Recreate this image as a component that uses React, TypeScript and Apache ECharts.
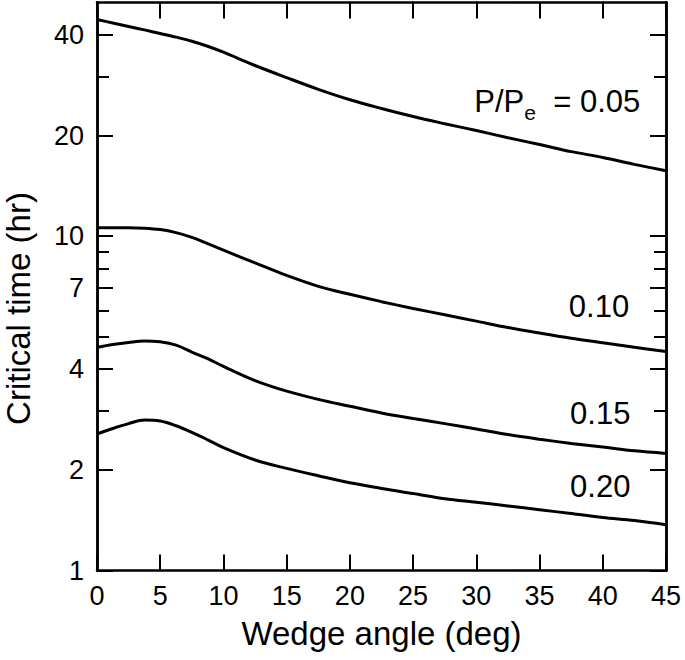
import React, { useEffect, useRef } from "react";
import * as echarts from "echarts";

const angles = [0, 1.25, 2.5, 3.75, 5, 6.25, 7.5, 8.75, 10, 12.5, 15, 17.5, 20, 22.5, 25, 27.5, 30, 32.5, 35, 37.5, 40, 42.5, 45];
const t005 = [44.5, 43.4, 42.4, 41.4, 40.4, 39.4, 38.3, 37.0, 35.5, 32.4, 29.8, 27.5, 25.6, 24.1, 22.8, 21.7, 20.7, 19.7, 18.8, 17.9, 17.2, 16.4, 15.7];
const t010 = [10.6, 10.6, 10.6, 10.57, 10.47, 10.25, 9.92, 9.5, 9.08, 8.32, 7.63, 7.08, 6.7, 6.37, 6.08, 5.82, 5.57, 5.33, 5.13, 4.95, 4.8, 4.65, 4.52];
const t015 = [4.65, 4.74, 4.81, 4.86, 4.83, 4.72, 4.5, 4.3, 4.08, 3.7, 3.44, 3.25, 3.1, 2.96, 2.85, 2.75, 2.65, 2.55, 2.47, 2.4, 2.34, 2.28, 2.24];
const t020 = [2.56, 2.66, 2.75, 2.82, 2.8, 2.71, 2.59, 2.46, 2.33, 2.14, 2.02, 1.92, 1.83, 1.76, 1.7, 1.64, 1.6, 1.56, 1.52, 1.48, 1.44, 1.41, 1.37];

const seriesNames = ["0.05", "0.10", "0.15", "0.20"];
const seriesValues = [t005, t010, t015, t020];
// label anchor positions (data coords) for each curve
const labelAngles = [36.4, 39.7, 39.8, 39.8];
const labelTimes = [25.3, 6.18, 2.94, 1.783];

const xTicks = [0, 5, 10, 15, 20, 25, 30, 35, 40, 45];
const yLabelTicks = [1, 2, 4, 7, 10, 20, 40];
const yMinorTicks = [3, 5, 6, 8, 9, 30];

const FONT = "'Liberation Sans', Arial, Helvetica, sans-serif";

export default function App() {
  const ref = useRef<HTMLDivElement>(null);
  useEffect(() => {
    if (!ref.current) return;
    const chart = echarts.init(ref.current, null, { renderer: "svg" });
    const axisLine = { show: true, lineStyle: { color: "#000", width: 2.5 } };
    const yBase = (position: string, ticks: number[], len: number, labels: boolean, extra: any = {}) => ({
      type: "log",
      logBase: 10,
      min: 1,
      max: 50,
      position,
      axisLine,
      splitLine: { show: false },
      minorTick: { show: false },
      axisTick: { show: true, inside: true, length: len, customValues: ticks, lineStyle: { color: "#000", width: 2 } },
      axisLabel: labels
        ? {
            show: true,
            customValues: yLabelTicks,
            fontSize: 27,
            color: "#000",
            fontFamily: FONT,
            margin: 13,
            formatter: (v: number) => String(+Number(v).toPrecision(3)),
          }
        : { show: false },
      ...extra,
    });
    const xBase = (position: string, labels: boolean, extra: any = {}) => ({
      type: "value",
      min: 0,
      max: 45,
      interval: 5,
      position,
      axisLine,
      splitLine: { show: false },
      axisTick: { show: true, inside: true, length: 16, lineStyle: { color: "#000", width: 2 } },
      axisLabel: labels
        ? { show: true, fontSize: 27, color: "#000", fontFamily: FONT, margin: 12, customValues: xTicks }
        : { show: false },
      ...extra,
    });

    const series = seriesValues.map((vals, i) => ({
      type: "line",
      name: seriesNames[i],
      xAxisIndex: 0,
      yAxisIndex: 0,
      data: angles.map((a, j) => [a, vals[j]]),
      smooth: 0.35,
      showSymbol: false,
      symbol: "none",
      lineStyle: { color: "#000", width: 3 },
      silent: true,
      markPoint: {
        silent: true,
        symbol: "circle",
        symbolSize: 0,
        itemStyle: { color: "rgba(0,0,0,0)" },
        data: [
          {
            coord: [labelAngles[i], labelTimes[i]],
            label: {
              show: true,
              position: "inside",
              color: "#000",
              fontFamily: FONT,
              fontSize: 31,
              formatter: i === 0 ? "{m|P/P}{sub|e}{m|  = 0.05}" : seriesNames[i],
              rich: {
                m: { fontSize: 31, lineHeight: 44, color: "#000", fontFamily: FONT },
                sub: { fontSize: 21, lineHeight: 21, verticalAlign: "bottom", color: "#000", fontFamily: FONT },
              },
            },
          },
        ],
      },
    }));

    chart.setOption({
      animation: false,
      backgroundColor: "#fff",
      textStyle: { fontFamily: FONT },
      grid: { left: 97, right: 19, top: 2.5, bottom: 89.5, outerBoundsMode: "none", containLabel: false },
      xAxis: [
        xBase("bottom", true, {
          name: "Wedge angle (deg)",
          nameLocation: "middle",
          nameGap: 46,
          nameMoveOverlap: false,
          nameTextStyle: { fontSize: 33, color: "#000", fontFamily: FONT },
        }),
        xBase("top", false),
      ],
      yAxis: [
        yBase("left", yLabelTicks, 16, true, {
          name: "Critical time (hr)",
          nameLocation: "middle",
          nameGap: 62,
          nameMoveOverlap: false,
          nameTextStyle: { fontSize: 33, color: "#000", fontFamily: FONT, padding: [0, 44, 0, 0] },
        }),
        yBase("left", yMinorTicks, 12, false),
        yBase("right", yLabelTicks, 16, false),
        yBase("right", yMinorTicks, 12, false),
      ],
      series,
    });
    return () => chart.dispose();
  }, []);
  return <div ref={ref} style={{ position: "fixed", left: 0, top: 0, width: 685, height: 660 }} />;
}
